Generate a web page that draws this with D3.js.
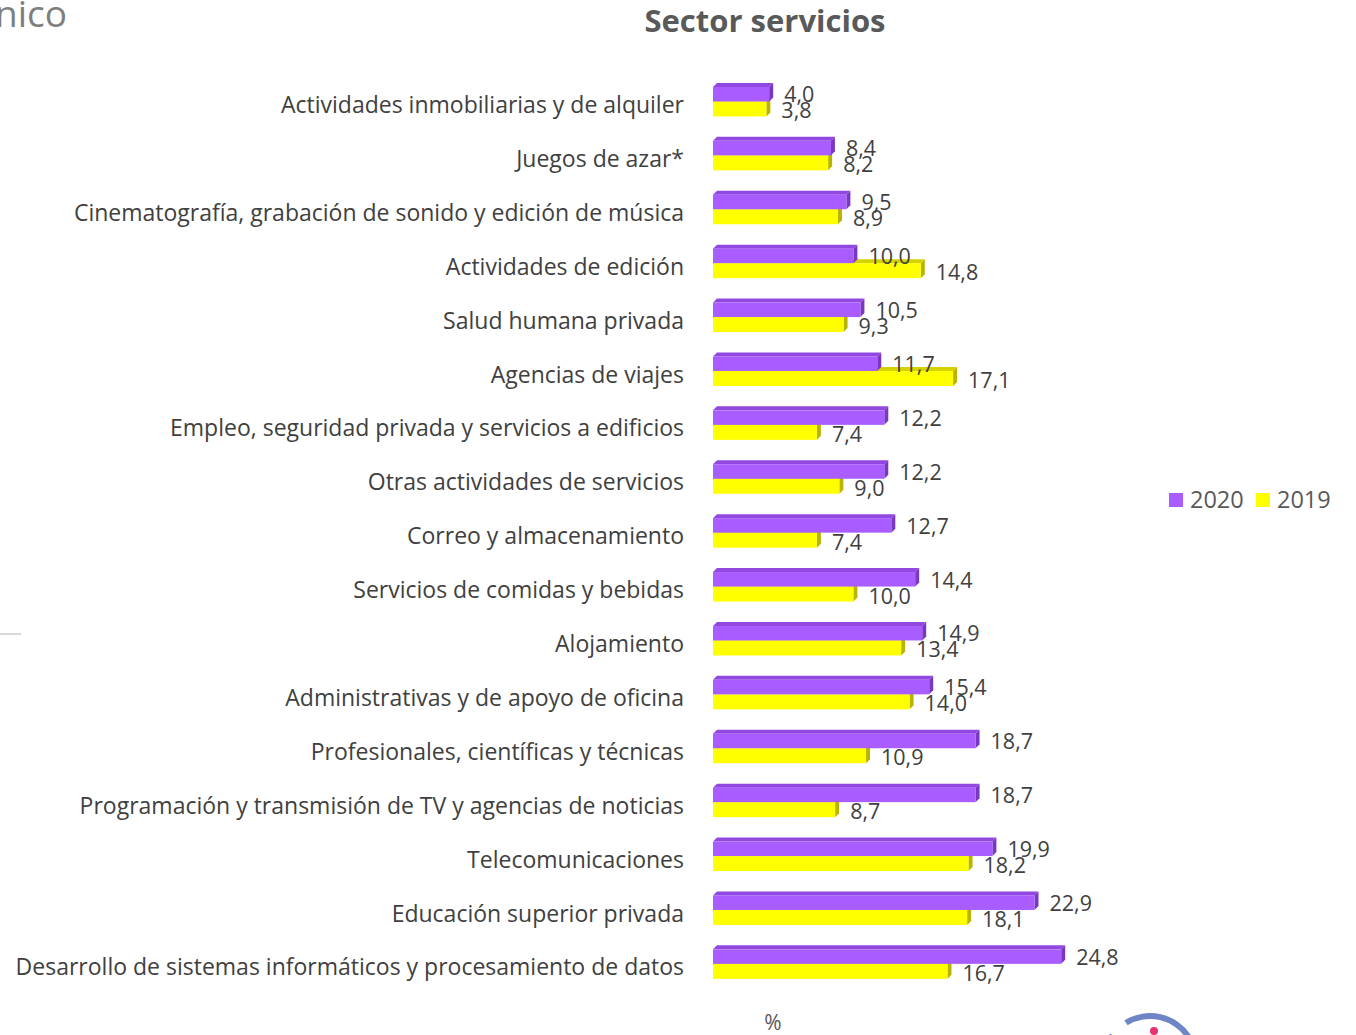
<!DOCTYPE html>
<html>
<head>
<meta charset="utf-8">
<script src="https://cdn.jsdelivr.net/npm/d3@7"></script>
<style>
  body { margin: 0; background: #fff; }
  text { font-family: "Open Sans", sans-serif; }
</style>
</head>
<body>
<div class="canvas"></div>
<script>
var width = 1356, height = 1035;

var categories = [
  "Actividades inmobiliarias y de alquiler",
  "Juegos de azar*",
  "Cinematografía, grabación de sonido y edición de música",
  "Actividades de edición",
  "Salud humana privada",
  "Agencias de viajes",
  "Empleo, seguridad privada y servicios a edificios",
  "Otras actividades de servicios",
  "Correo y almacenamiento",
  "Servicios de comidas y bebidas",
  "Alojamiento",
  "Administrativas y de apoyo de oficina",
  "Profesionales, científicas y técnicas",
  "Programación y transmisión de TV y agencias de noticias",
  "Telecomunicaciones",
  "Educación superior privada",
  "Desarrollo de sistemas informáticos y procesamiento de datos"
];
var values2020 = [4.0, 8.4, 9.5, 10.0, 10.5, 11.7, 12.2, 12.2, 12.7, 14.4, 14.9, 15.4, 18.7, 18.7, 19.9, 22.9, 24.8];
var values2019 = [3.8, 8.2, 8.9, 14.8, 9.3, 17.1, 7.4, 9.0, 7.4, 10.0, 13.4, 14.0, 10.9, 8.7, 18.2, 18.1, 16.7];
var seriesNames = ["2020", "2019"];

var fmt = function(v) { return v.toFixed(1).replace(".", ","); };

var svg = d3.select(".canvas").append("svg")
    .attr("width", width)
    .attr("height", height);

var x = d3.scaleLinear().domain([0, 25]).range([713, 1064]);
var y = d3.scaleBand().domain(categories).range([78, 78 + 17 * 53.9]);

var depth = 4;
var styles = {
  "2020": {front: "#a95cff", top: "#9148e0", side: "#7a38c2", off: -18, h: 14.5},
  "2019": {front: "#ffff00", top: "#d6d200", side: "#b9b400", off: -3.5, h: 15}
};

// top-left cut title + thin rule
svg.append("text")
    .attr("x", 67).attr("y", 27)
    .attr("text-anchor", "end")
    .style("font-size", "37px")
    .style("fill", "#7f7f7f")
    .text("nico");
svg.append("line")
    .attr("x1", 0).attr("x2", 21).attr("y1", 634).attr("y2", 634)
    .style("stroke", "#d9d9d9").style("stroke-width", 2);

svg.append("text")
    .attr("x", 765).attr("y", 32)
    .attr("text-anchor", "middle")
    .style("font-size", "31px")
    .style("font-weight", "bold")
    .style("fill", "#595959")
    .text("Sector servicios");

// category labels
svg.selectAll(".cat").data(categories)
  .enter().append("text")
    .attr("class", "cat")
    .attr("x", 684)
    .attr("y", function(d) { return y(d) + y.bandwidth() / 2; })
    .attr("dy", "0.35em")
    .attr("text-anchor", "end")
    .style("font-size", "23px")
    .style("fill", "#404040")
    .text(function(d) { return d; });

function drawSeries(name, vals) {
  var s = styles[name];
  var g = svg.append("g").attr("class", "s" + name);
  var rows = g.selectAll("g").data(vals)
    .enter().append("g")
    .attr("transform", function(d, i) {
      return "translate(0," + (y(categories[i]) + y.bandwidth() / 2 + s.off) + ")";
    });
  // top face
  rows.append("path")
    .attr("d", function(d) {
      var x0 = x(0), x1 = x(d);
      return "M" + x0 + ",0L" + (x0 + depth) + "," + (-depth) + "L" + (x1 + depth) + "," + (-depth) + "L" + x1 + ",0Z";
    })
    .style("fill", s.top);
  // side face
  rows.append("path")
    .attr("d", function(d) {
      var x1 = x(d);
      return "M" + x1 + ",0L" + (x1 + depth) + "," + (-depth) + "L" + (x1 + depth) + "," + (s.h - depth) + "L" + x1 + "," + s.h + "Z";
    })
    .style("fill", s.side);
  rows.append("rect")
    .attr("x", x(0))
    .attr("y", 0)
    .attr("width", function(d) { return x(d) - x(0); })
    .attr("height", s.h)
    .style("fill", s.front);
}

// 2019 first so the 2020 bar sits on top of its top face
drawSeries("2019", values2019);
drawSeries("2020", values2020);

// value labels
svg.selectAll(".v20").data(values2020)
  .enter().append("text")
    .attr("class", "v20")
    .attr("x", function(d) { return x(d) + depth + 11; })
    .attr("y", function(d, i) { return y(categories[i]) + y.bandwidth() / 2 - 10; })
    .attr("dy", "0.35em")
    .style("font-size", "21.5px")
    .style("fill", "#404040")
    .text(fmt);
svg.selectAll(".v19").data(values2019)
  .enter().append("text")
    .attr("class", "v19")
    .attr("x", function(d) { return x(d) + depth + 11; })
    .attr("y", function(d, i) { return y(categories[i]) + y.bandwidth() / 2 + 6; })
    .attr("dy", "0.35em")
    .style("font-size", "21.5px")
    .style("fill", "#404040")
    .text(fmt);

// legend
var legend = svg.selectAll(".legend").data(seriesNames)
  .enter().append("g")
    .attr("class", "legend")
    .attr("transform", function(d, i) { return "translate(" + (1169 + i * 87) + ",493)"; });
legend.append("rect")
    .attr("width", 14).attr("height", 14)
    .style("fill", function(d) { return styles[d].front; });
legend.append("text")
    .attr("x", 21).attr("y", 7)
    .attr("dy", "0.35em")
    .style("font-size", "23.5px")
    .style("fill", "#595959")
    .text(function(d) { return d; });

svg.append("text")
    .attr("x", 773).attr("y", 1023)
    .attr("dy", "0.35em")
    .attr("text-anchor", "middle")
    .style("font-size", "21px")
    .style("fill", "#595959")
    .text("%");

// bit of the logo peeking in at the bottom
var arc = d3.arc().innerRadius(43).outerRadius(49);
var logo = svg.append("g").attr("transform", "translate(1150,1062)");
logo.append("path")
    .attr("d", arc({startAngle: -0.55, endAngle: 1.0}))
    .style("fill", "#6f86c6");
logo.append("path")
    .attr("d", arc({startAngle: -1.3, endAngle: -0.95}))
    .style("fill", "#6f86c6");
svg.append("circle")
    .attr("cx", 1154).attr("cy", 1031).attr("r", 4)
    .style("fill", "#e8336e");
</script>
</body>
</html>
